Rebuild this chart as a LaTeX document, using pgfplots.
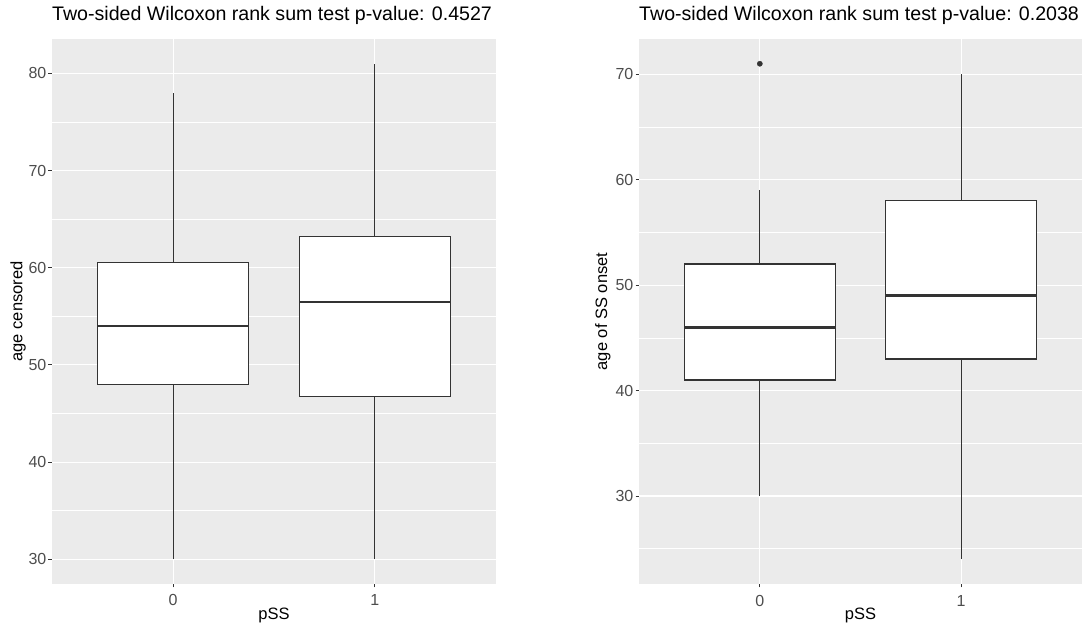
\documentclass[border=0pt]{standalone}
\usepackage{pgfplots}
\pgfplotsset{compat=1.18}
\usepgfplotslibrary{statistics}
\usepackage{fontspec}
\setmainfont{Liberation Sans}
\definecolor{panelbg}{HTML}{EBEBEB}
\definecolor{tickc}{HTML}{4D4D4D}
\definecolor{linec}{HTML}{333333}

\pgfplotsset{
  ggbox/.style={
    scale only axis, width=444pt, height=545pt, anchor=south west,
    axis background/.style={fill=panelbg},
    axis x line*=bottom, axis y line*=left,
    axis line style={draw=none},
    xmin=-0.6, xmax=1.6,
    xtick={0,1}, minor xtick={},
    grid=both,
    major grid style={white, line width=1.1pt},
    minor grid style={white, line width=0.55pt},
    tick style={linec, line width=0.9pt},
    major tick length=3.5pt, minor tick length=0pt,
    tick align=outside,
    /pgf/number format/assume math mode=true,
    ticklabel style={font=\fontsize{16}{18}\selectfont, text=tickc},
    xticklabel style={anchor=base, inner sep=0pt, yshift=-18.5pt},
    yticklabel style={anchor=east, inner sep=0pt, xshift=-2pt},
    label style={font=\fontsize{16.5}{20}\selectfont, text=black},
    title style={font=\fontsize{19.6}{24}\selectfont, at={(axis description cs:0,1)}, anchor=base west, yshift=12.5pt, inner sep=0pt},
    boxplot/draw direction=y,
    boxplot/every median/.style={line width=2.4pt},
  },
  ggboxplot/.style={draw=linec, fill=white, line width=1.15pt, solid, mark=none},
}

\begin{document}
\begin{tikzpicture}
\useasboundingbox (0,0) rectangle (1085pt,624pt);

\begin{axis}[ggbox, at={(52pt,40pt)},
  ymin=27.45, ymax=83.55,
  ytick={30,40,50,60,70,80}, minor ytick={35,45,55,65,75},
  title={Two-sided Wilcoxon rank sum test p-value: 0.4527},
  xlabel={pSS}, ylabel={age censored},
  xlabel style={at={(axis description cs:0.5,-0.066)}, anchor=base},
  ylabel style={at={(axis description cs:-0.0766,0.5)}, anchor=center, rotate=0},
]
\addplot[ggboxplot, boxplot prepared={draw position=0, lower whisker=30, lower quartile=48, median=54, upper quartile=60.5, upper whisker=78, box extend=0.75, whisker extend=0}] coordinates {};
\addplot[ggboxplot, boxplot prepared={draw position=1, lower whisker=30, lower quartile=46.75, median=56.5, upper quartile=63.25, upper whisker=81, box extend=0.75, whisker extend=0}] coordinates {};
\end{axis}

\begin{axis}[ggbox, at={(639pt,40pt)}, width=443pt,
  ymin=21.65, ymax=73.35,
  ytick={30,40,50,60,70}, minor ytick={25,35,45,55,65},
  title={Two-sided Wilcoxon rank sum test p-value: 0.2038},
  xlabel={pSS}, ylabel={age of SS onset},
  xlabel style={at={(axis description cs:0.5,-0.066)}, anchor=base},
  ylabel style={at={(axis description cs:-0.0813,0.5)}, anchor=center, rotate=0},
]
\addplot[ggboxplot, boxplot prepared={draw position=0, lower whisker=30, lower quartile=41, median=46, upper quartile=52, upper whisker=59, box extend=0.75, whisker extend=0}] coordinates {};
\addplot[ggboxplot, boxplot prepared={draw position=1, lower whisker=24, lower quartile=43, median=49, upper quartile=58, upper whisker=70, box extend=0.75, whisker extend=0}] coordinates {};
\addplot[only marks, mark=*, mark size=2.6pt, color=linec] coordinates {(0,71)};
\end{axis}
\end{tikzpicture}
\end{document}
